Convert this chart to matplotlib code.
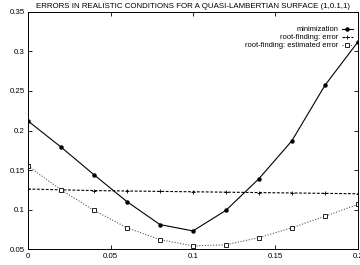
import matplotlib
matplotlib.use("Agg")
import matplotlib.pyplot as plt
from matplotlib.ticker import FormatStrFormatter

plt.rcParams['font.family'] = ['Liberation Sans', 'DejaVu Sans']

x = [0.0, 0.02, 0.04, 0.06, 0.08, 0.10, 0.12, 0.14, 0.16, 0.18, 0.20]
minim = [0.212, 0.179, 0.144, 0.110, 0.081, 0.073, 0.099, 0.139, 0.187, 0.257, 0.312]
rf_err = [0.126, 0.125, 0.124, 0.1235, 0.123, 0.1225, 0.122, 0.1215, 0.121, 0.1205, 0.120]
rf_est = [0.155, 0.125, 0.099, 0.077, 0.062, 0.054, 0.0555, 0.0645, 0.077, 0.0915, 0.1065]

xticks = [0, 0.05, 0.1, 0.15, 0.2]
yticks = [0.05, 0.1, 0.15, 0.2, 0.25, 0.3, 0.35]
title = "ERRORS IN REALISTIC CONDITIONS FOR A QUASI-LAMBERTIAN SURFACE (1,0.1,1)"

fig = plt.figure(figsize=(3.6, 2.65), dpi=100)
ax = fig.add_axes([0.078, 0.06, 0.916, 0.895])

ax.plot(x, minim, color='black', lw=0.8, ls='-', marker='o', ms=2.2,
        label='minimization')
ax.plot(x, rf_err, color='black', lw=0.8, ls=(0, (2.5, 1.5)), marker='+', ms=3,
        mew=0.6, label='root-finding: error')
ax.plot(x, rf_est, color='#555555', lw=0.8, ls=(0, (1, 1.5)), marker='s', ms=2.6,
        mfc='white', mec='black', mew=0.6, label='root-finding: estimated error')

ax.set_xlim(0, 0.2)
ax.set_ylim(0.05, 0.35)
ax.set_xticks(xticks)
ax.set_yticks(yticks)
ax.xaxis.set_major_formatter(FormatStrFormatter('%g'))
ax.yaxis.set_major_formatter(FormatStrFormatter('%g'))
ax.tick_params(direction='in', length=3, width=0.6, labelsize=5.7, pad=2.5,
               top=True, right=True)
for s in ax.spines.values():
    s.set_linewidth(0.7)

ax.set_title(title, fontsize=5.7, pad=3)
ax.legend(loc='upper right', bbox_to_anchor=(0.985, 0.94), frameon=False,
          fontsize=5.4, markerfirst=False, handlelength=1.5, handletextpad=0.5,
          labelspacing=0.1, borderaxespad=0, borderpad=0)

fig.savefig('out.png', dpi=100)
